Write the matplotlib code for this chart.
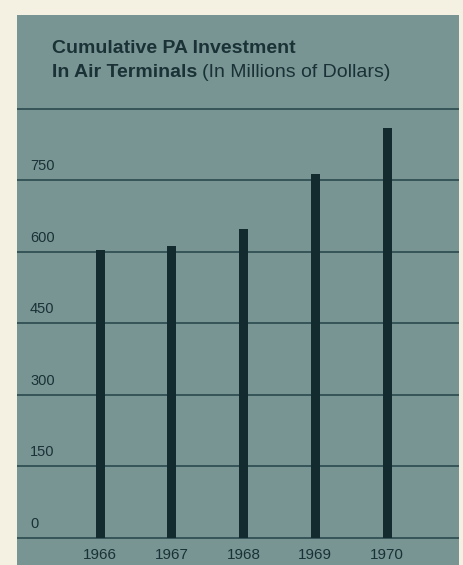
import matplotlib
matplotlib.use("Agg")
import matplotlib.pyplot as plt

# Cumulative investment in air terminals, millions of dollars
years = ["1966", "1967", "1968", "1969", "1970"]
investment = [605, 613, 648, 763, 860]
y_ticks = [0, 150, 300, 450, 600, 750, 900]

PAGE = "#f4f1e2"
PANEL = "#789594"
INK = "#132a2f"
LINE = "#2b4a4f"
TEXT = "#1a3136"

W, H = 464, 565
fig = plt.figure(figsize=(W / 100, H / 100), dpi=100, facecolor=PAGE)
plt.rcParams["font.family"] = ["Liberation Sans", "DejaVu Sans"]

# panel occupies pixels x 17..459, y 15..565 (from top)
px0, px1, py0, py1 = 17, 459, 15, 565
ax = fig.add_axes([px0 / W, 1 - py1 / H, (px1 - px0) / W, (py1 - py0) / H])
ax.set_facecolor(PANEL)
for s in ax.spines.values():
    s.set_visible(False)
ax.set_xticks([])
ax.set_yticks([])

# data scale: 0 at pixel 538, 0.4767 px per unit; bars every 71.75 px from x=100
zero_px, ppu = 538, 0.4767
bar0, step = 100, 71.75
ax.set_ylim((zero_px - py1) / ppu, (zero_px - py0) / ppu)
ax.set_xlim((px0 - bar0) / step, (px1 - bar0) / step)

for t in y_ticks:
    ax.axhline(t, color=LINE, lw=1.2, zorder=1)
    if t < 900:
        ax.text((30 - bar0) / step, t + 15, str(t), ha="left", va="bottom",
                fontsize=10.5, color=TEXT, zorder=3)

xs = list(range(len(years)))
ax.bar(xs, investment, width=9 / step, color=INK, zorder=2)

for x, yr in zip(xs, years):
    ax.text(x, -36, yr, ha="center", va="center", fontsize=11, color=TEXT)

# title block
fig.text(52 / W, 1 - 53 / H, "Cumulative PA Investment", ha="left",
         va="baseline", fontsize=14, fontweight="bold", color=TEXT)
t2 = fig.text(52 / W, 1 - 77 / H, "In Air Terminals", ha="left",
              va="baseline", fontsize=14, fontweight="bold", color=TEXT)
fig.canvas.draw()
bb = t2.get_window_extent()
fig.text(bb.x1 / W + 5 / W, 1 - 77 / H, "(In Millions of Dollars)", ha="left",
         va="baseline", fontsize=14, color=TEXT)

fig.savefig("out.png", dpi=100, facecolor=PAGE)
